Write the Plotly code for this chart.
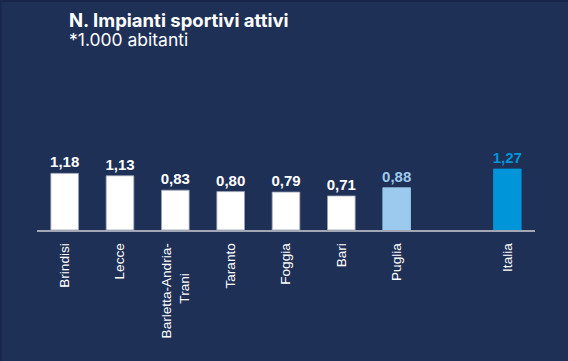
import plotly.graph_objects as go

categories = ["Brindisi", "Lecce", "Barletta-Andria-Trani", "Taranto", "Foggia", "Bari", "Puglia", "gap", "Italia"]
tick_labels = ["Brindisi", "Lecce", "Barletta-Andria-<br>Trani" + "\u2800" * 3, "Taranto", "Foggia", "Bari", "Puglia", "", "Italia"]
values = [1.18, 1.13, 0.83, 0.80, 0.79, 0.71, 0.88, None, 1.27]
labels = ["1,18", "1,13", "0,83", "0,80", "0,79", "0,71", "0,88", "", "1,27"]
bar_colors = ["#ffffff"] * 6 + ["#9ccaee", "#ffffff", "#0094d8"]
label_colors = ["#ffffff"] * 6 + ["#9ccaee", "#ffffff", "#0094d8"]
line_colors = ["#9aa0b4"] * 6 + ["#9ccaee", "#9ccaee", "#0094d8"]

BG = "#1f3057"

fig = go.Figure(go.Bar(
    x=categories, y=values,
    marker=dict(color=bar_colors, line=dict(color=line_colors, width=0.8)),
    width=0.5,
    text=labels, textposition="outside", constraintext="none",
    textfont=dict(family="Liberation Sans, Arial", size=15, color=label_colors, weight="bold"),
    cliponaxis=False,
    hoverinfo="skip",
))

fig.update_layout(
    template="none",
    width=568, height=361,
    margin=dict(l=37, r=33, t=110, b=131, autoexpand=False),
    paper_bgcolor=BG, plot_bgcolor=BG,
    showlegend=False,
    xaxis=dict(
        categoryorder="array", categoryarray=categories,
        tickvals=categories, ticktext=tick_labels,
        tickangle=-90, tickfont=dict(family="Liberation Sans, Arial", size=13.6, color="#ffffff"),
        showline=True, linecolor="#a3a7b5", linewidth=1.5,
        ticks="", ticklabelstandoff=6, showgrid=False, zeroline=False, range=[-0.5, 8.5],
        automargin=False,
    ),
    yaxis=dict(visible=False, range=[0, 2.5], showgrid=False, zeroline=False, automargin=False),
    annotations=[
        dict(text="<b>N. Impianti sportivi attivi</b>", xref="paper", yref="paper",
             x=30 / 498, y=1 + (110 - 20) / 120, xanchor="left", yanchor="middle", showarrow=False,
             font=dict(family="Inter, Roboto", size=18.5, color="#ffffff")),
        dict(text="*1.000 abitanti", xref="paper", yref="paper",
             x=30 / 498, y=1 + (110 - 40) / 120, xanchor="left", yanchor="middle", showarrow=False,
             font=dict(family="Inter, Roboto", size=17.5, color="#ffffff")),
    ],
    shapes=[
        dict(type="rect", xref="paper", yref="paper", x0=-37 / 498, x1=(568 - 37) / 498,
             y0=1 + 108 / 120, y1=1 + 111 / 120, fillcolor="#19264a", line=dict(width=0), layer="below"),
        dict(type="rect", xref="paper", yref="paper", x0=-37 / 498, x1=-35.5 / 498,
             y0=-131 / 120, y1=1 + 111 / 120, fillcolor="#19264a", line=dict(width=0), layer="below"),
    ],
)

fig.write_html("out.html", config={"displayModeBar": False},
               post_script="document.body.style.margin='0';document.body.style.background='%s';" % BG)
